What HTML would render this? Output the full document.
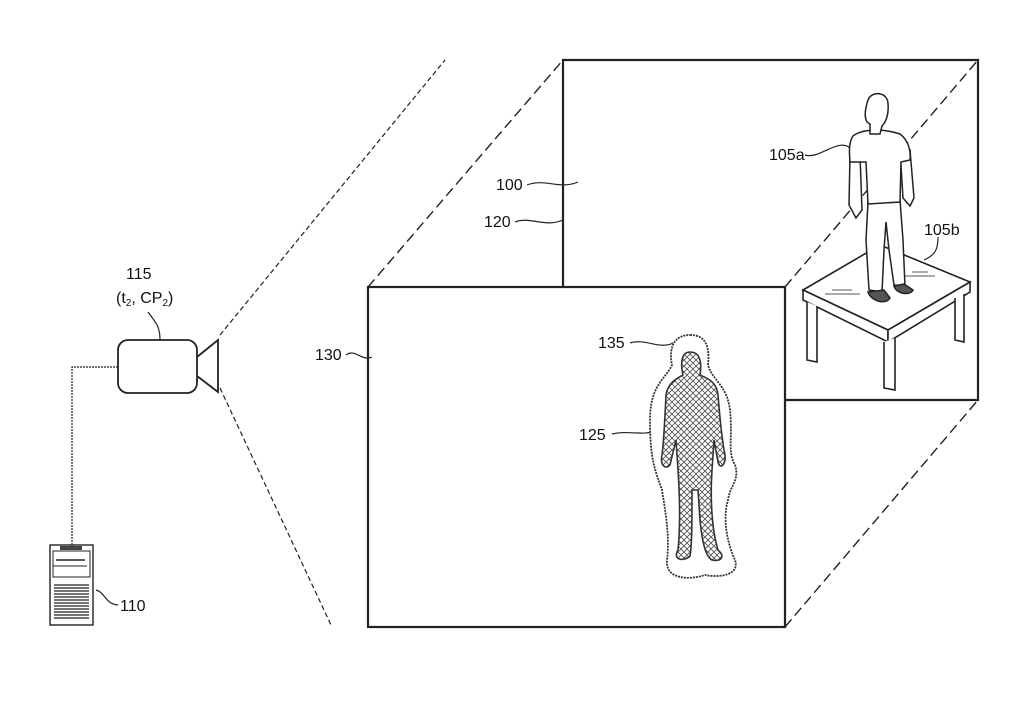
<!DOCTYPE html>
<html><head><meta charset="utf-8"><style>
html,body{margin:0;padding:0;background:#fff;}
svg{display:block;}
text{font-family:"Liberation Sans",Arial,sans-serif;font-size:16px;fill:#111;}
</style></head><body>
<svg width="1015" height="720" viewBox="0 0 1015 720" xmlns="http://www.w3.org/2000/svg">
<defs>
<pattern id="hatch" width="6" height="6" patternUnits="userSpaceOnUse">
<path d="M0,0 L6,6 M6,0 L0,6" stroke="#555" stroke-width="0.9"/>
</pattern>
</defs>
<g fill="none" stroke="#222">
<line x1="220" y1="335" x2="445" y2="60" stroke-dasharray="5,3" stroke-width="1.2"/>
<line x1="220" y1="388" x2="331" y2="625" stroke-dasharray="5,3" stroke-width="1.2"/>
<path d="M563,288 L563,60 L978,60 L978,400 L785,400" stroke-width="2.2"/>
<line x1="368" y1="287" x2="563" y2="60" stroke-dasharray="10,5" stroke-width="1.4"/>
<line x1="785" y1="287" x2="978" y2="60" stroke-dasharray="10,5" stroke-width="1.4"/>
<line x1="785" y1="627" x2="978" y2="400" stroke-dasharray="10,5" stroke-width="1.4"/>
<rect x="368" y="287" width="417" height="340" fill="#fff" stroke-width="2.2"/>
<rect x="118" y="340" width="79" height="53" rx="10" stroke-width="1.8"/>
<path d="M197,357 L218,340 L218,392 L197,376" stroke-width="1.8"/>
<path d="M118,367 L72,367 L72,545" stroke-width="1.2" stroke-dasharray="2,1"/>
<rect x="50" y="545" width="43" height="80" stroke-width="1.4"/>
<rect x="53" y="551" width="37" height="26" stroke-width="1"/>
<rect x="60" y="546" width="22" height="4" fill="#444" stroke="none"/>
<line x1="56" y1="560" x2="85" y2="560" stroke-width="1.5"/>
<line x1="53" y1="566" x2="87" y2="566"/>
<g stroke-width="1.3">
<line x1="54" y1="585" x2="89" y2="585"/><line x1="54" y1="588" x2="89" y2="588"/><line x1="54" y1="591" x2="89" y2="591"/><line x1="54" y1="594" x2="89" y2="594"/><line x1="54" y1="597" x2="89" y2="597"/><line x1="54" y1="600" x2="89" y2="600"/><line x1="54" y1="603" x2="89" y2="603"/><line x1="54" y1="606" x2="89" y2="606"/><line x1="54" y1="609" x2="89" y2="609"/><line x1="54" y1="612" x2="89" y2="612"/><line x1="54" y1="615" x2="89" y2="615"/><line x1="54" y1="618" x2="89" y2="618"/>
</g>
<g stroke-width="1.2">
<path d="M148,312 C155,322 160,325 160,340"/>
<path d="M527,185 C545,178 560,190 578,182"/>
<path d="M515,222 C530,216 545,228 563,220"/>
<path d="M346,355 C355,348 362,362 372,357"/>
<path d="M630,343 C645,338 660,350 673,343"/>
<path d="M612,434 C628,430 640,436 658,431"/>
<path d="M805,155 C820,160 840,135 852,150"/>
<path d="M938,237 C938,250 935,255 924,260"/>
<path d="M96,590 C105,592 105,604 118,605"/>
</g>
</g>
<path d="M690,335 C705,335 710,345 708,365 C712,380 727,385 730,410 C733,440 727,450 735,465 C740,480 730,485 728,500 C722,520 728,545 735,560 C740,575 720,578 705,575 C690,580 665,580 667,560 C670,535 665,510 662,490 C655,470 650,460 650,420 C650,385 665,380 672,365 C668,345 676,335 690,335 Z" fill="#fff" stroke="#333" stroke-width="1.8" stroke-dasharray="2,1"/>
<path d="M690,352 C700,352 702,362 700,375 C707,378 717,382 718,395 C720,420 722,440 725,455 C726,465 720,470 718,462 L714,440 L712,470 C710,500 712,530 718,550 C725,556 722,562 712,560 C705,556 702,540 700,520 L698,490 L692,490 C692,520 692,545 690,556 C684,562 672,560 678,550 C680,530 680,500 678,470 L676,440 L670,465 C665,470 660,465 662,455 C664,440 665,415 666,395 C668,382 678,378 683,375 C680,362 682,352 690,352 Z" fill="url(#hatch)" stroke="#333" stroke-width="1.6"/>
<g fill="#fff" stroke="#222" stroke-width="1.6">
<path d="M803,290 L880,245 L970,282 L888,330 Z"/>
<path d="M803,290 L803,300 L888,342 L888,330 Z"/>
<path d="M888,330 L970,282 L970,292 L888,342 Z"/>
<path d="M807,302 L807,360 L817,362 L817,306"/>
<path d="M884,342 L884,388 L895,390 L895,338"/>
<path d="M955,298 L955,340 L964,342 L964,294"/>
</g>
<g stroke="#555" stroke-width="1"><line x1="832" y1="290" x2="852" y2="290"/><line x1="825" y1="294" x2="860" y2="294"/><line x1="912" y1="272" x2="928" y2="272"/><line x1="905" y1="276" x2="935" y2="276"/></g>
<g fill="#fff" stroke="#222" stroke-width="1.5">
<path d="M850,155 L849,205 L856,218 L862,210 L860,155 Z"/>
<path d="M900,150 L903,198 L910,206 L914,198 L910,150 Z"/>
<path d="M868,202 L866,240 L869,290 L882,292 L884,250 L886,222 L889,250 L894,285 L905,286 L903,240 L900,200 Z"/>
<path d="M853,136 C862,129 882,128 900,134 C908,140 911,150 910,160 L901,162 L900,202 L868,204 L866,162 L850,162 C849,150 849,142 853,136 Z"/>
<path d="M868,100 C872,90 888,92 888,104 C889,114 886,122 882,126 L880,134 L870,134 L870,124 C864,122 864,112 868,100 Z"/>
<path d="M868,292 C870,300 885,306 890,298 L884,290 Z" fill="#555"/>
<path d="M894,286 C896,294 910,296 913,290 L904,284 Z" fill="#555"/>
</g>
<text x="126" y="279">115</text>
<text x="116" y="303">(t<tspan font-size="10" dy="3">2</tspan><tspan dy="-3">, CP</tspan><tspan font-size="10" dy="3">2</tspan><tspan dy="-3">)</tspan></text>
<text x="496" y="190">100</text>
<text x="484" y="227">120</text>
<text x="315" y="360">130</text>
<text x="598" y="348">135</text>
<text x="579" y="440">125</text>
<text x="769" y="160">105a</text>
<text x="924" y="235">105b</text>
<text x="120" y="611">110</text>
</svg>
</body></html>
